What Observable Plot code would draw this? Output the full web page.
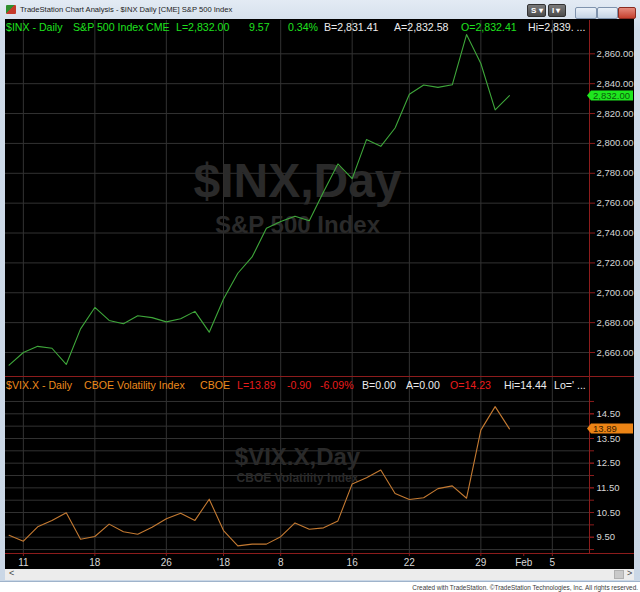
<!DOCTYPE html>
<html>
<head>
<meta charset="utf-8">
<script src="https://cdn.jsdelivr.net/npm/d3@7"></script>
<script src="https://cdn.jsdelivr.net/npm/@observablehq/plot@0.6"></script>
<style>
html, body { margin: 0; padding: 0; background: #fff; }
#win { position: relative; width: 640px; height: 592px; overflow: hidden; background: #fff;
  font-family: "Liberation Sans", Arial, sans-serif; }
#frame { position: absolute; left: 0; top: 0; width: 640px; height: 582px;
  background: linear-gradient(#e3ebf4, #cfdbe9 30px, #cad7e6); border-bottom: 1px solid #9fb3cb; box-sizing: border-box; }
#title { position: absolute; left: 20px; top: 5px; font-size: 7.6px; color: #1b1b1b; white-space: nowrap; }
#icon { position: absolute; left: 6px; top: 5px; width: 10px; height: 9px;
  background: linear-gradient(135deg, #2f8f2f 0 45%, #c43a2a 45% 100%); border-radius: 1px; }
.btn { position: absolute; top: 4px; height: 11px; background: linear-gradient(#7a7a7a, #4d4d4d);
  border: 1px solid #333; border-radius: 2px; color: #fff; font-size: 8px; font-weight: bold; line-height: 11px; padding-left: 3px; box-sizing: content-box; }
.wbtn { position: absolute; top: 7px; height: 10px; border: 1px solid #7f93ad; border-radius: 2px;
  background: linear-gradient(#e9f0f8, #c4d3e4); }
#chart { position: absolute; left: 5px; top: 19px; width: 629px; height: 550px; background: #000; }
.plot { position: absolute; left: 0; }
.hdr { position: absolute; left: 0; width: 588px; height: 14px; overflow: hidden; font-size: 10.6px; line-height: 14px; white-space: nowrap; }
.hdr span { position: absolute; top: 0; }
.hline { position: absolute; left: 5px; width: 629px; height: 1px; background: #8c1c1c; }
#scroll { position: absolute; left: 5px; top: 569px; width: 629px; height: 11px; background: #ececec; }
#scroll .a { position: absolute; top: -1px; font-size: 9px; color: #444; }
#thumb { position: absolute; left: 609px; top: 1px; width: 10px; height: 9px; background: #c9c9c9; border: 1px solid #b0b0b0; box-sizing: border-box; }
#foot { position: absolute; right: 2px; top: 584px; font-size: 6.4px; color: #3c3c3c; white-space: nowrap; }
</style>
</head>
<body>
<div id="win">
  <div id="frame">
    <div id="icon"></div>
    <div id="title">TradeStation Chart Analysis - $INX Daily [CME] S&amp;P 500 Index</div>
    <div class="btn" style="left:527px;width:14px;">S ▾</div>
    <div class="btn" style="left:548px;width:13px;">I ▾</div>
    <div class="wbtn" style="left:575px;width:20px;"></div>
    <div class="wbtn" style="left:597px;width:19px;"></div>
    <div class="wbtn" style="left:618px;width:16px;background:linear-gradient(#e58a7c,#c5402e);border-color:#8a2b20;"></div>
  </div>
  <div id="chart"></div>
  <div id="topPlot" class="plot" style="top:20px;"></div>
  <div id="botPlot" class="plot" style="top:377px;"></div>
  <div class="hline" style="top:376px;"></div>
  <div class="hline" style="top:553px;"></div>
  <div class="hdr" style="top:20px;">
    <span style="left:6px;color:#1fe01f;">$INX - Daily</span>
    <span style="left:73px;color:#1fe01f;">S&amp;P 500 Index</span>
    <span style="left:146px;color:#1fe01f;">CME</span>
    <span style="left:176px;color:#1fe01f;">L=2,832.00</span>
    <span style="left:249px;color:#1fe01f;">9.57</span>
    <span style="left:288px;color:#1fe01f;">0.34%</span>
    <span style="left:324px;color:#ececec;">B=2,831.41</span>
    <span style="left:394px;color:#ececec;">A=2,832.58</span>
    <span style="left:461px;color:#1fe01f;">O=2,832.41</span>
    <span style="left:528px;color:#ececec;">Hi=2,839. ...</span>
  </div>
  <div class="hdr" style="top:378px;">
    <span style="left:6px;color:#ec8a1c;">$VIX.X - Daily</span>
    <span style="left:84px;color:#ec8a1c;">CBOE Volatility Index</span>
    <span style="left:200px;color:#ec8a1c;">CBOE</span>
    <span style="left:237px;color:#e81c1c;">L=13.89</span>
    <span style="left:287px;color:#e81c1c;">-0.90</span>
    <span style="left:320px;color:#e81c1c;">-6.09%</span>
    <span style="left:362px;color:#ececec;">B=0.00</span>
    <span style="left:406px;color:#ececec;">A=0.00</span>
    <span style="left:450px;color:#e81c1c;">O=14.23</span>
    <span style="left:504px;color:#ececec;">Hi=14.44</span>
    <span style="left:554px;color:#ececec;">Lo=' ...</span>
  </div>
  <div id="scroll"><span class="a" style="left:4px;">&lt;</span><div id="thumb"></div><span class="a" style="left:622px;">&gt;</span></div>
  <div id="foot">Created with TradeStation. ©TradeStation Technologies, Inc. All rights reserved.</div>
</div>
<script>
// ---- data ----
const dates = [
  "2017-12-08","2017-12-11","2017-12-12","2017-12-13","2017-12-14","2017-12-15",
  "2017-12-18","2017-12-19","2017-12-20","2017-12-21","2017-12-22",
  "2017-12-26","2017-12-27","2017-12-28","2017-12-29",
  "2018-01-02","2018-01-03","2018-01-04","2018-01-05",
  "2018-01-08","2018-01-09","2018-01-10","2018-01-11","2018-01-12",
  "2018-01-16","2018-01-17","2018-01-18","2018-01-19",
  "2018-01-22","2018-01-23","2018-01-24","2018-01-25","2018-01-26",
  "2018-01-29","2018-01-30","2018-01-31"
];
const futureDates = ["2018-02-01","2018-02-02","2018-02-05","2018-02-06","2018-02-07"];
const spx = [
  2651.50, 2659.99, 2664.11, 2662.85, 2652.01, 2675.81,
  2690.16, 2681.47, 2679.25, 2684.57, 2683.34,
  2680.50, 2682.62, 2687.54, 2673.61,
  2695.81, 2713.06, 2723.99, 2743.15,
  2747.71, 2751.29, 2748.23, 2767.56, 2786.24,
  2776.42, 2802.56, 2798.03, 2810.30,
  2832.97, 2839.13, 2837.54, 2839.25, 2872.87,
  2853.53, 2822.43, 2832.00
];
const vix = [
  9.58, 9.34, 9.92, 10.18, 10.49, 9.42,
  9.53, 10.03, 9.72, 9.62, 9.90,
  10.25, 10.47, 10.18, 11.04,
  9.77, 9.15, 9.22, 9.22,
  9.52, 10.08, 9.82, 9.88, 10.16,
  11.66, 11.91, 12.22, 11.27,
  11.03, 11.10, 11.47, 11.58, 11.08,
  13.84, 14.79, 13.89
];
const tickDates = ["2017-12-11","2017-12-18","2017-12-26","2018-01-02","2018-01-08","2018-01-16","2018-01-22","2018-01-29","2018-02-01","2018-02-05"];
const tickLabels = ["11","18","26","'18","8","16","22","29","Feb","5"];
const gridDates = ["2017-12-11","2017-12-18","2017-12-26","2018-01-02","2018-01-08","2018-01-16","2018-01-22","2018-01-29","2018-02-05"];
const spxTicks = [2660, 2680, 2700, 2720, 2740, 2760, 2780, 2800, 2820, 2840, 2860];
const vixTicks = [9.5, 10.5, 11.5, 12.5, 13.5, 14.5];
const vixMinor = [9, 9.5, 10, 10.5, 11, 11.5, 12, 12.5, 13, 13.5, 14, 14.5, 15];
const spxMarks = ["$INX,Day", "S&P 500 Index"];
const vixMarks = ["$VIX.X,Day", "CBOE Volatility Index"];
const spxLast = "2,832.00";
const vixLast = "13.89";

// ---- helpers ----
const calendar = dates.concat(futureDates);
const idx = d => calendar.indexOf(d);
const labelByIdx = new Map(tickDates.map((d, i) => [idx(d), tickLabels[i]]));
const spxData = dates.map((d, i) => ({i: idx(d), v: spx[i]}));
const vixData = dates.map((d, i) => ({i: idx(d), v: vix[i]}));
const xMax = 40.6;
const RED = "#8c1c1c", GRID = "#323232", LABEL = "#d6d6d6";
const FONT = "Liberation Sans, Arial, sans-serif";

function priceTag(value, label, fill, textFill) {
  return (index, scales, values, dims) => {
    const ys = scales.y || (scales.scales && scales.scales.y);
    const y = Math.round(ys(value)) + 0.5;
    const x0 = dims.width - dims.marginRight - 2;
    const g = d3.create("svg:g");
    g.append("path")
      .attr("d", `M${x0},${y} L${x0 + 4},${y - 5} H${x0 + 46} V${y + 5} H${x0 + 4} Z`)
      .attr("fill", fill);
    g.append("text").attr("x", x0 + 6).attr("y", y).attr("dy", "0.35em")
      .attr("text-anchor", "start")
      .attr("fill", textFill).attr("font-size", 9.5).attr("font-family", FONT).text(label);
    return g.node();
  };
}

const common = {
  width: 640, marginLeft: 5, marginRight: 51,
  style: {background: "transparent", fontFamily: FONT, overflow: "visible"},
  x: {domain: [-0.25, xMax], axis: null}
};

const topPlot = Plot.plot({
  ...common,
  height: 356, marginTop: 0, marginBottom: 0,
  y: {domain: [2643.93, 2882.3], axis: null},
  marks: [
    Plot.gridX(gridDates.map(idx), {stroke: GRID, strokeOpacity: 1}),
    Plot.gridY(spxTicks, {stroke: GRID, strokeOpacity: 1}),
    Plot.text([spxMarks[0]], {text: d => d, frameAnchor: "top", dy: 142, fontSize: 48, fontWeight: "bold", fill: "#2a2a2a"}),
    Plot.text([spxMarks[1]], {text: d => d, frameAnchor: "top", dy: 195, fontSize: 24, fontWeight: "bold", fill: "#2a2a2a"}),
    Plot.line(spxData, {x: "i", y: "v", stroke: "#3ea63a", strokeWidth: 1.1}),
    Plot.ruleX([xMax], {stroke: RED}),
    Plot.axisY(spxTicks, {anchor: "right", label: null, tickFormat: d3.format(",.2f"), tickSize: 5, tickPadding: 2,
      stroke: RED, fill: LABEL, fontSize: 9.5}),
    priceTag(2832.00, spxLast, "#1ee61e", "#0b5a0b")
  ]
});
document.getElementById("topPlot").appendChild(topPlot);

const botPlot = Plot.plot({
  ...common,
  height: 192, marginTop: 0, marginBottom: 16,
  y: {domain: [8.84, 15.971], axis: null},
  marks: [
    Plot.gridX(gridDates.map(idx), {stroke: GRID, strokeOpacity: 1}),
    Plot.gridY(vixMinor, {stroke: GRID, strokeOpacity: 1}),
    Plot.text([vixMarks[0]], {text: d => d, frameAnchor: "top", dy: 70, fontSize: 24, fontWeight: "bold", fill: "#2a2a2a"}),
    Plot.text([vixMarks[1]], {text: d => d, frameAnchor: "top", dy: 96, fontSize: 12, fontWeight: "bold", fill: "#2a2a2a"}),
    Plot.line(vixData, {x: "i", y: "v", stroke: "#c47a32", strokeWidth: 1.1}),
    Plot.ruleX([xMax], {stroke: RED}),
    Plot.axisY(vixMinor, {anchor: "right", label: null, tickFormat: () => "", tickSize: 4, stroke: RED}),
    Plot.axisY(vixTicks, {anchor: "right", label: null, tickFormat: d3.format(".2f"), tickSize: 4, tickPadding: 3,
      stroke: RED, fill: LABEL, fontSize: 9.5}),
    Plot.axisX(tickDates.map(idx), {anchor: "bottom", label: null, tickFormat: d => labelByIdx.get(d), tickSize: 3, tickPadding: 2,
      stroke: RED, fill: LABEL, fontSize: 10}),
    priceTag(13.89, vixLast, "#ec8415", "#3a1d00")
  ]
});
document.getElementById("botPlot").appendChild(botPlot);
</script>
</body>
</html>
